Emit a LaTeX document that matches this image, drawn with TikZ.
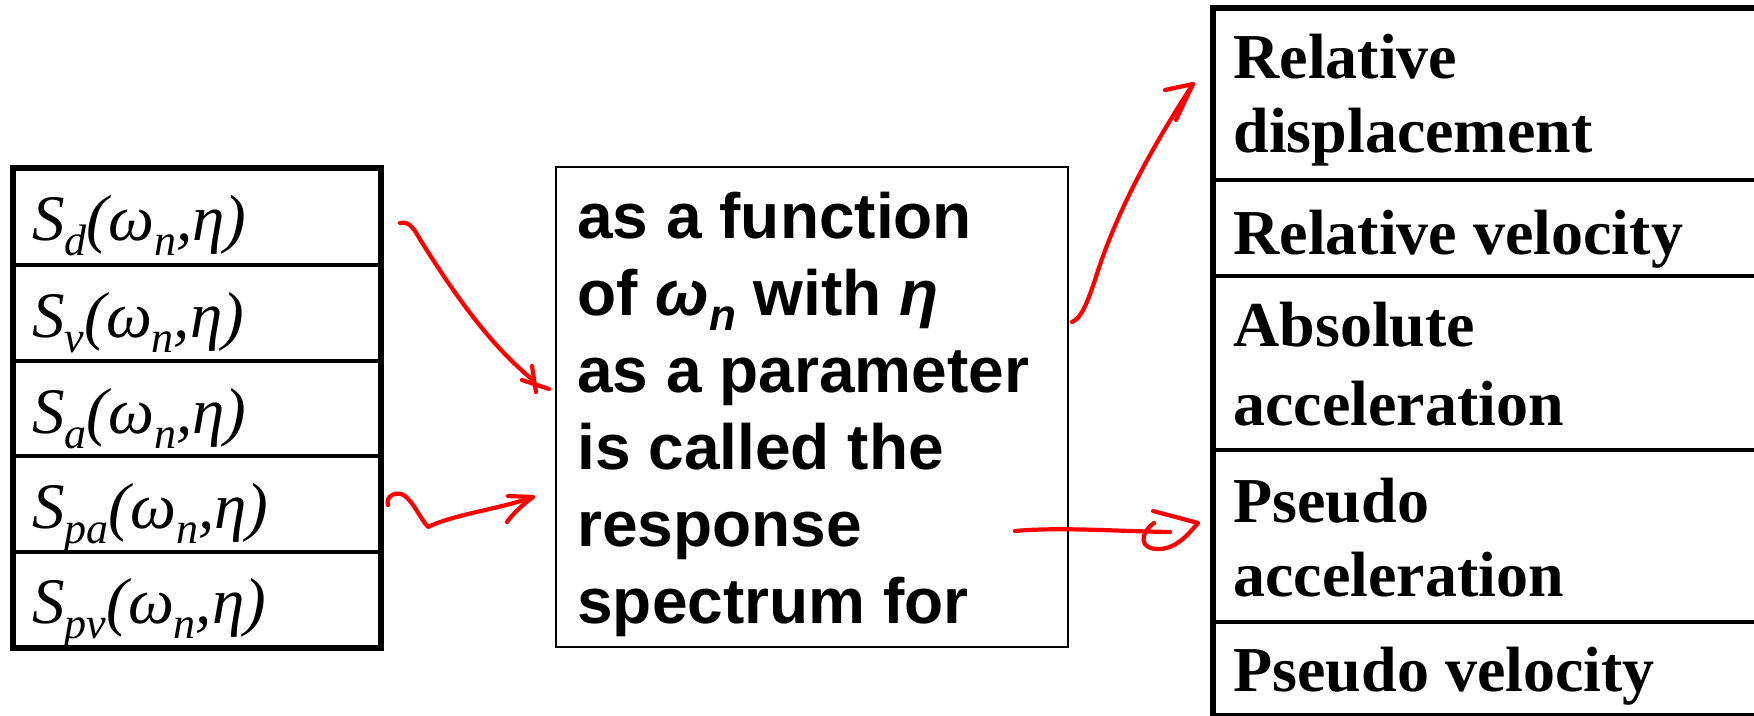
\documentclass[tikz,border=0pt]{standalone}
\usepackage{fontspec}
\setmainfont{Liberation Serif}
\newfontfamily\arialfam{Liberation Sans}
\usetikzlibrary{calc}

% lowered, smaller index (subscript) used inside text lines
\newcommand{\lowsub}[1]{\raisebox{-7.5pt}{\fontsize{22}{22}\selectfont #1}}

\begin{document}
\begin{tikzpicture}[x=0.5pt,y=-0.5pt,
  thickrule/.style={line width=3pt},
  rule/.style={line width=1.6pt},
  thinrule/.style={line width=1pt},
  celltext/.style={anchor=base west, inner sep=0pt, font=\fontsize{32.5}{37}\selectfont\itshape},
  boldserif/.style={anchor=base west, inner sep=0pt, font=\fontsize{32}{37}\selectfont\bfseries},
  sanstext/.style={anchor=base west, inner sep=0pt, font=\arialfam\bfseries\fontsize{32}{38}\selectfont},
  ink/.style={draw=red, line width=2.1pt, line cap=round, line join=round},
]
\useasboundingbox (0,0) rectangle (1754,716);

% ---- left table: spectra
\draw[thickrule] (13,168) rectangle (381,648);
\foreach \yy in {265,361,456,552}
  \draw[rule] (13,\yy) -- (381,\yy);
\node[celltext] (sd)  at (32,241) {S\lowsub{d}(ω\lowsub{n},η)};
\node[celltext] (sv)  at (32,337) {S\lowsub{v}(ω\lowsub{n},η)};
\node[celltext] (sa)  at (32,433) {S\lowsub{a}(ω\lowsub{n},η)};
\node[celltext] (spa) at (32,528) {S\lowsub{pa}(ω\lowsub{n},η)};
\node[celltext] (spv) at (32,623) {S\lowsub{pv}(ω\lowsub{n},η)};

% ---- middle box: definition
\draw[thinrule] (556,167) rectangle (1068,647);
\node[sanstext] (m1) at (577,239) {as a function};
\node[sanstext] (m2) at (577,316) {of \textit{ω}\lowsub{\textit{n}} with \textit{η}};
\node[sanstext] (m3) at (577,393) {as a parameter};
\node[sanstext] (m4) at (577,469) {is called the};
\node[sanstext] (m5) at (577,546) {response};
\node[sanstext] (m6) at (577,623) {spectrum for};

% ---- right table: quantities
\draw[thickrule] (1213,8) -- (1760,8);
\draw[thickrule] (1213,5) -- (1213,720);
\foreach \yy in {180,276,450,622,715}
  \draw[rule] (1213,\yy) -- (1760,\yy);
\node[boldserif] (q1a) at (1233,79)  {Relative};
\node[boldserif] (q1b) at (1233,153) {displacement};
\node[boldserif] (q2)  at (1233,255) {Relative velocity};
\node[boldserif] (q3a) at (1233,347) {Absolute};
\node[boldserif] (q3b) at (1233,425) {acceleration};
\node[boldserif] (q4a) at (1233,522) {Pseudo};
\node[boldserif] (q4b) at (1233,596) {acceleration};
\node[boldserif] (q5)  at (1233,691) {Pseudo velocity};

% ---- hand-drawn red arrows
\coordinate (a1s) at (400,223);
\coordinate (a1e) at (533,380);
\draw[ink] (a1s) .. controls (410,221) and (414,229) .. (421,241)
  .. controls (455,295) and (490,345) .. (a1e);
\draw[ink] ($(a1e)+(-11,0)$) -- ($(a1e)+(16,9)$);
\draw[ink] ($(a1e)+(-1,-14)$) -- ($(a1e)+(3,12)$);

\coordinate (a2s) at (388,505);
\coordinate (a2e) at (533,497);
\draw[ink] (a2s) .. controls (385,496) and (397,490) .. (405,496)
  .. controls (414,503) and (420,518) .. (428,527)
  .. controls (455,514) and (500,509) .. (a2e);
\draw[ink] (508,496) -- (a2e) .. controls (522,505) and (512,515) .. (507,522);

\coordinate (a3s) at (1072,322);
\coordinate (a3e) at (1193,84);
\draw[ink] (a3s) .. controls (1082,318) and (1088,300) .. (1095,280)
  .. controls (1118,205) and (1160,135) .. (a3e);
\draw[ink] (1165,90) -- (a3e) -- (1176,120);

\coordinate (a4s) at (1015,531);
\coordinate (a4e) at (1198,523);
\draw[ink] (a4s) .. controls (1060,527) and (1110,531) .. (1170,532);
\draw[ink] (1154,523) .. controls (1140,533) and (1138,550) .. (1160,549)
  .. controls (1178,548) and (1190,532) .. (a4e) -- (1153,511);
\end{tikzpicture}
\end{document}
